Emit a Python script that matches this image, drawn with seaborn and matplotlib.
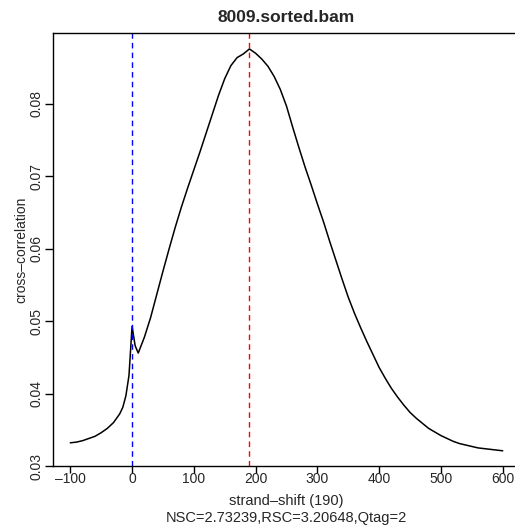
import matplotlib
matplotlib.use("Agg")
import matplotlib.pyplot as plt
import seaborn as sns
import pandas as pd

shift = [-100, -90, -80, -70, -60, -50, -40, -30, -20, -15, -10, -5, 0, 5, 10,
         20, 30, 40, 50, 60, 70, 80, 90, 100, 110, 120, 130, 140, 150, 160, 170,
         180, 190, 200, 210, 220, 230, 240, 250, 260, 270, 280, 290, 300, 310,
         320, 330, 340, 350, 360, 370, 380, 390, 400, 410, 420, 430, 440, 450,
         460, 470, 480, 490, 500, 510, 520, 530, 540, 550, 560, 570, 580, 590, 600]
corr = [0.0332, 0.0333, 0.0335, 0.0338, 0.0341, 0.0346, 0.0352, 0.0360, 0.0372,
        0.0381, 0.0397, 0.0425, 0.0493, 0.0466, 0.0456,
        0.0478, 0.0505, 0.0537, 0.0569, 0.0600, 0.0630, 0.0658, 0.0684, 0.0709,
        0.0734, 0.0760, 0.0786, 0.0812, 0.0835, 0.0853, 0.0864,
        0.0869, 0.0876, 0.0870, 0.0862, 0.0852, 0.0838, 0.0820, 0.0797, 0.0768,
        0.0740, 0.0713, 0.0688, 0.0662, 0.0637,
        0.0610, 0.0584, 0.0558, 0.0533, 0.0511, 0.0491, 0.0472, 0.0454, 0.0436,
        0.0421, 0.0407, 0.0395, 0.0384, 0.0374,
        0.0366, 0.0359, 0.0352, 0.0347, 0.0342, 0.0338, 0.0334, 0.0331, 0.0329,
        0.0327, 0.0325, 0.0324, 0.0323, 0.0322, 0.0321]

xticks = [-100, 0, 100, 200, 300, 400, 500, 600]
yticks = [0.03, 0.04, 0.05, 0.06, 0.07, 0.08]
ytick_labels = ["0.03", "0.04", "0.05", "0.06", "0.07", "0.08"]
peak_shift = 190
title = "8009.sorted.bam"
xlabel = "strand\u2013shift (190)"
subtitle = "NSC=2.73239,RSC=3.20648,Qtag=2"
ylabel = "cross\u2013correlation"

sns.set_style("ticks")
plt.rcParams['font.family'] = ['Liberation Sans', 'DejaVu Sans']

df = pd.DataFrame({"shift": shift, "corr": corr})

W, H = 515, 527
fig = plt.figure(figsize=(W / 100, H / 100), dpi=100)
ax = fig.add_axes([53 / W, (H - 466) / H, (520 - 53) / W, (466 - 33) / H])

sns.lineplot(data=df, x="shift", y="corr", ax=ax, color="black", lw=1.1)
ax.axvline(0, color="#0000ff", lw=1.0, ls=(0, (4, 3)))
ax.axvline(peak_shift, color="#ff0000", lw=1.0, ls=(0, (4, 3)))

ax.set_xlim(-128, 628)
ax.set_ylim(0.0300, 0.0898)
ax.set_xticks(xticks)
ax.set_xticklabels([str(t).replace("-", "\u2013") for t in xticks], fontsize=10)
ax.set_yticks(yticks)
ax.set_yticklabels(ytick_labels, fontsize=10, rotation=90, va="center")
ax.tick_params(axis="x", length=5, width=1, pad=-1, color="black")
ax.tick_params(axis="y", length=6, width=1, pad=1, color="black")
ax.set_xlabel("")
ax.set_ylabel("")
for s in ax.spines.values():
    s.set_color("black")
    s.set_linewidth(1.0)

fig.text(286 / W, 1 - 18 / H, title, ha="center", va="center", fontsize=12.5,
         fontweight="bold")
fig.text(286 / W, 1 - 501 / H, xlabel, ha="center", va="center", fontsize=10.5)
fig.text(286 / W, 1 - 518 / H, subtitle, ha="center", va="center", fontsize=10.5)
fig.text(21 / W, 1 - 250 / H, ylabel, ha="center", va="center", fontsize=10,
         rotation=90)

fig.savefig("out.png", dpi=100)
